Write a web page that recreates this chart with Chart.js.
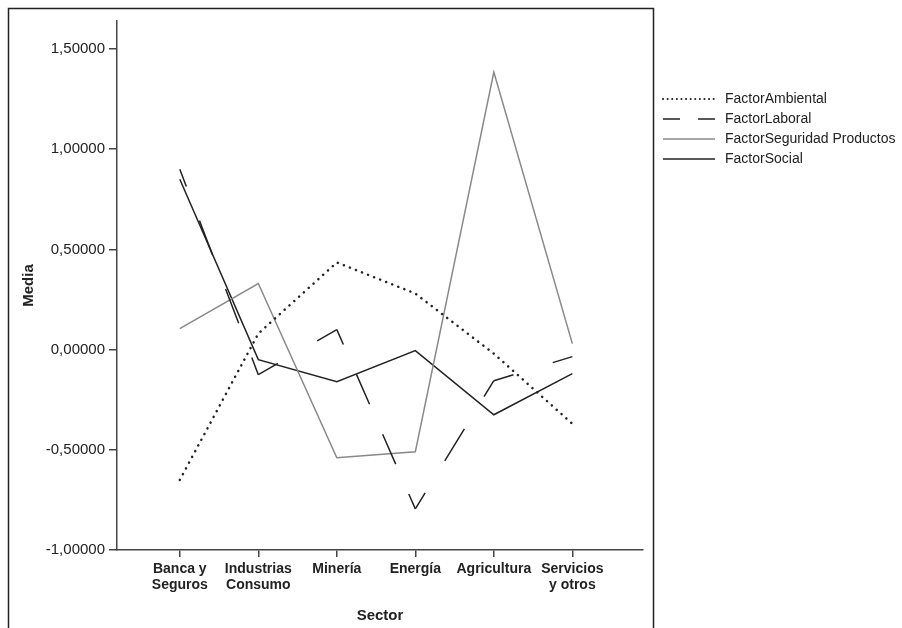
<!DOCTYPE html>
<html>
<head>
<meta charset="utf-8">
<script src="https://cdn.jsdelivr.net/npm/chart.js@4/dist/chart.umd.min.js"></script>
<style>
  html, body { margin: 0; padding: 0; background: #fff; }
  #wrap { position: relative; width: 902px; height: 628px; }
</style>
</head>
<body>
<div id="wrap"><canvas id="sector-chart" width="902" height="628"></canvas></div>
<script>
// categories on the x axis
let sectores = [['Banca y', 'Seguros'], ['Industrias', 'Consumo'], ['Minería'], ['Energía'], ['Agricultura'], ['Servicios', 'y otros']];
let posiciones = [1, 2, 3, 4, 5, 6];

// media por sector
let factorAmbiental = [-0.65, 0.08, 0.435, 0.28, -0.02, -0.37];
let factorLaboral = [0.90, -0.125, 0.10, -0.795, -0.155, -0.035];
let factorSeguridad = [0.105, 0.33, -0.54, -0.51, 1.385, 0.03];
let factorSocial = [0.85, -0.05, -0.16, -0.005, -0.325, -0.12];

let yTicks = [-1.0, -0.5, 0.0, 0.5, 1.0, 1.5];

function toPoints(vals){
  return vals.map(function(v, i){ return {x: posiciones[i], y: v}; });
}

function fmt(v){
  return v.toFixed(5).replace('.', ',');
}

const font = "'Liberation Sans', Arial, Helvetica, sans-serif";

// dash pattern stretched per segment: half dash at both ends
function segPeriod(c){
  const len = Math.hypot(c.p1.x - c.p0.x, c.p1.y - c.p0.y);
  const n = Math.max(1, Math.round(len / 66));
  return len / n;
}

// frame + legend drawn after the chart
const extras = {
  id: 'extras',
  afterDraw(chart){
    const ctx = chart.ctx;
    ctx.save();
    ctx.strokeStyle = '#222';
    ctx.lineWidth = 1.5;
    ctx.beginPath();
    ctx.moveTo(8.5, 640);
    ctx.lineTo(8.5, 8.5);
    ctx.lineTo(653.5, 8.5);
    ctx.lineTo(653.5, 640);
    ctx.stroke();

    const ys = [99, 119, 139, 159];
    const dashes = [[0.1, 4.5], [17, 18], [], []];
    chart.data.datasets.forEach(function(ds, i){
      ctx.beginPath();
      ctx.setLineDash(dashes[i]);
      ctx.lineCap = i === 0 ? 'round' : 'butt';
      ctx.strokeStyle = ds.borderColor;
      ctx.lineWidth = i === 0 ? 2 : ds.borderWidth;
      ctx.moveTo(663, ys[i]);
      ctx.lineTo(715, ys[i]);
      ctx.stroke();
      ctx.setLineDash([]);
      ctx.fillStyle = '#222';
      ctx.font = '14px ' + font;
      ctx.textBaseline = 'middle';
      ctx.textAlign = 'left';
      ctx.fillText(ds.label, 725, ys[i]);
    });
    ctx.restore();
  }
};

document.addEventListener('DOMContentLoaded', function() {
  var ctx = document.getElementById('sector-chart').getContext('2d');
  new Chart(ctx, {
    type: 'line',
    data: {
      datasets: [
        {
          label: 'FactorAmbiental',
          data: toPoints(factorAmbiental),
          borderColor: '#222',
          borderWidth: 2.5,
          borderDash: [0.1, 6.4],
          borderCapStyle: 'round',
          pointRadius: 0,
          fill: false,
          tension: 0
        },
        {
          label: 'FactorLaboral',
          data: toPoints(factorLaboral),
          borderColor: '#222',
          borderWidth: 1.5,
          borderDash: [33, 33],
          segment: {
            borderDash: function(c){ const p = segPeriod(c); return [p / 2, p / 2]; },
            borderDashOffset: function(c){ return segPeriod(c) / 4; }
          },
          pointRadius: 0,
          fill: false,
          tension: 0
        },
        {
          label: 'FactorSeguridad Productos',
          data: toPoints(factorSeguridad),
          borderColor: '#888',
          borderWidth: 1.5,
          pointRadius: 0,
          fill: false,
          tension: 0
        },
        {
          label: 'FactorSocial',
          data: toPoints(factorSocial),
          borderColor: '#222',
          borderWidth: 1.5,
          pointRadius: 0,
          fill: false,
          tension: 0
        }
      ]
    },
    options: {
      responsive: false,
      animation: false,
      layout: { padding: { left: 0, top: 21, right: 259, bottom: 0 } },
      plugins: {
        legend: { display: false },
        tooltip: { enabled: false }
      },
      scales: {
        x: {
          type: 'linear',
          min: 0.2,
          max: 6.9,
          afterFit: function(scale){ scale.height = 78; },
          afterBuildTicks: function(scale){
            scale.ticks = posiciones.map(function(p){ return {value: p}; });
          },
          grid: { drawOnChartArea: false, drawTicks: true, tickLength: 7, color: '#444', lineWidth: 1.5 },
          border: { color: '#444', width: 1.5 },
          ticks: {
            autoSkip: false,
            maxRotation: 0,
            padding: 4,
            color: '#222',
            font: { family: font, size: 14, weight: 'bold', lineHeight: 1.15 },
            callback: function(v){ return sectores[posiciones.indexOf(v)]; }
          },
          title: {
            display: true,
            text: 'Sector',
            color: '#222',
            font: { family: font, size: 15, weight: 'bold', lineHeight: 1.2 },
            padding: { top: 0, bottom: 3 }
          }
        },
        y: {
          min: -1.0,
          max: 1.64,
          afterFit: function(scale){ scale.width = 117; },
          afterBuildTicks: function(scale){
            scale.ticks = yTicks.map(function(v){ return {value: v}; });
          },
          grid: { drawOnChartArea: false, drawTicks: true, tickLength: 8, color: '#444', lineWidth: 1.5 },
          border: { color: '#444', width: 1.5 },
          ticks: {
            padding: 4,
            color: '#222',
            font: { family: font, size: 15 },
            callback: function(v){ return fmt(v); }
          },
          title: {
            display: true,
            text: 'Media',
            color: '#222',
            font: { family: font, size: 15, weight: 'bold', lineHeight: 1.2 },
            padding: { top: 20, bottom: 0 }
          }
        }
      }
    },
    plugins: [extras]
  });
});
</script>
</body>
</html>
